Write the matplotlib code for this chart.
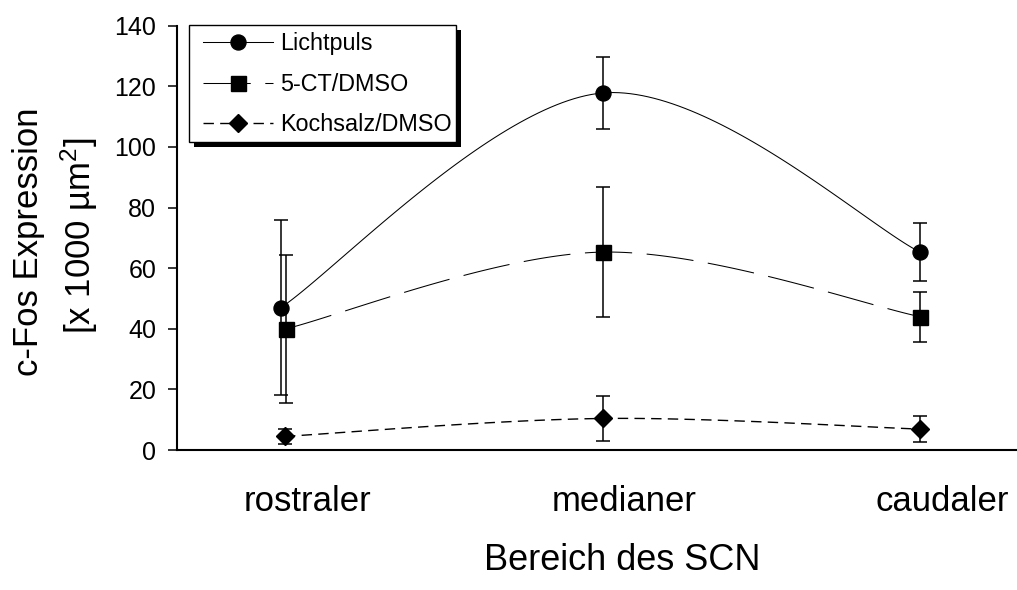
import matplotlib
matplotlib.use("Agg")
import numpy as np
import matplotlib.pyplot as plt
from matplotlib.lines import Line2D
from matplotlib.patches import Rectangle
from matplotlib.transforms import ScaledTranslation

# ---- data ---------------------------------------------------------------
regions = ["rostraler", "medianer", "caudaler"]
series_names = ["Lichtpuls", "5-CT/DMSO", "Kochsalz/DMSO"]
licht_mean = [47, 117.8, 65.3]
licht_err = [29, 12, 9.5]
ct_mean = [40, 65.3, 44]
ct_err = [24.5, 21.5, 8.2]
salz_mean = [4.5, 10.4, 6.9]
salz_err = [2.5, 7.5, 4.3]
yticks = [0, 20, 40, 60, 80, 100, 120, 140]

# ---- style --------------------------------------------------------------
W, H, DPI = 1017, 590, 100
plt.rcParams["font.family"] = ["Liberation Sans", "DejaVu Sans"]
plt.rcParams["mathtext.fontset"] = "custom"
plt.rcParams["mathtext.rm"] = "Liberation Sans"
plt.rcParams["mathtext.it"] = "Liberation Sans"


def px(x, y):
    """pixel position (origin top-left) -> figure fraction"""
    return x / W, 1 - y / H


def smooth(xs, ys, n=60):
    """Bezier smoothing through the points (tangents from neighbours)."""
    P = np.column_stack([xs, ys]).astype(float)
    out = []
    m = len(P)
    for i in range(m - 1):
        p0 = P[i]
        p3 = P[i + 1]
        prev = P[i - 1] if i > 0 else P[i]
        nxt = P[i + 2] if i + 2 < m else P[i + 1]
        p1 = p0 + (p3 - prev) / 6.0
        p2 = p3 - (nxt - p0) / 6.0
        t = np.linspace(0, 1, n)[:, None]
        seg = ((1 - t) ** 3) * p0 + 3 * ((1 - t) ** 2) * t * p1 \
            + 3 * (1 - t) * t ** 2 * p2 + t ** 3 * p3
        out.append(seg if i == 0 else seg[1:])
    c = np.vstack(out)
    return c[:, 0], c[:, 1]


fig = plt.figure(figsize=(W / DPI, H / DPI), dpi=DPI)
x0, y_bot = px(177, 450)
_, y_top = px(177, 25.7)
ax = fig.add_axes([x0, y_bot, 1 - x0, y_top - y_bot])

xpos = np.arange(len(regions), dtype=float)
spacing = 317.5  # pixels per category
dodge = {
    "Lichtpuls": np.array([-4, 0, 0]) / spacing,
    "5-CT/DMSO": np.array([1, 0, 0]) / spacing,
    "Kochsalz/DMSO": np.array([0, 0, 0]) / spacing,
}

lw_line = 0.75
long_dash = (0, (34 / lw_line, 10.5 / lw_line))
short_dash = (0, (7.5 / 1.0, 4.5 / 1.0))

specs = [
    ("Lichtpuls", licht_mean, licht_err, "o", 10.8, "-", lw_line),
    ("5-CT/DMSO", ct_mean, ct_err, "s", 10.8, long_dash, lw_line),
    ("Kochsalz/DMSO", salz_mean, salz_err, "D", 8.8, short_dash, 1.0),
]

handles = []
for name, mean, err, mk, ms, ls, lw in specs:
    xs = xpos + dodge[name]
    cx, cy = smooth(xs, mean)
    ax.plot(cx, cy, color="black", lw=lw, ls=ls, zorder=2, clip_on=False)
    ax.errorbar(xs, mean, yerr=err, fmt=mk, ms=ms, mfc="black", mec="black",
                ecolor="black", elinewidth=1.1, capsize=5, capthick=1.1,
                zorder=3, clip_on=False)
    handles.append(Line2D([], [], color="black", lw=lw, ls=ls, marker=mk,
                          ms=ms, mfc="black", mec="black"))

# ---- axes ---------------------------------------------------------------
ax.set_xlim((177 - 285) / spacing, (1017 - 285) / spacing)
ax.set_ylim(0, 140)
ax.set_yticks(yticks)
ax.set_yticklabels([str(v) for v in yticks], fontsize=18)
ax.tick_params(axis="y", direction="out", length=6.5, width=1.1, pad=8.5,
               color="black")
ax.set_xticks(xpos)
ax.set_xticklabels(regions, fontsize=25)
ax.tick_params(axis="x", length=0, pad=25)
shift = ScaledTranslation(22 / DPI, 0, fig.dpi_scale_trans)
for lab in ax.get_xticklabels():
    lab.set_transform(lab.get_transform() + shift)

for side in ("top", "right"):
    ax.spines[side].set_visible(False)
for side in ("left", "bottom"):
    ax.spines[side].set_linewidth(1.5)
    ax.spines[side].set_color("black")

# axis titles
fig.text(*px(29, 242), "c-Fos Expression", rotation=90, fontsize=25,
         ha="center", va="center")
fig.text(*px(79, 236), "[x 1000 µm$^{2}$]", rotation=90, fontsize=25,
         ha="center", va="center")
fig.text(*px(622, 560), "Bereich des SCN", fontsize=26, ha="center",
         va="center")

# ---- legend with shadowed frame -----------------------------------------
bx0, by0 = px(189, 142)
bw, bh = 267 / W, 117 / H
sh = Rectangle((bx0 + 5 / W, by0 - 5 / H), bw, bh, transform=fig.transFigure,
               facecolor="black", edgecolor="none", zorder=5)
fr = Rectangle((bx0, by0), bw, bh, transform=fig.transFigure,
               facecolor="white", edgecolor="black", lw=1.0, zorder=6)
fig.add_artist(sh)
fig.add_artist(fr)
leg_size = 16.8
leg_em = leg_size * DPI / 72
leg = fig.legend(handles, series_names, loc="upper left",
                 bbox_to_anchor=px(203, 32), frameon=False, borderpad=0,
                 borderaxespad=0, handlelength=70 / leg_em,
                 handletextpad=7 / leg_em, labelspacing=0.76,
                 prop={"family": "Liberation Sans", "size": leg_size})
leg.set_zorder(7)

fig.savefig("out.png", dpi=DPI)
